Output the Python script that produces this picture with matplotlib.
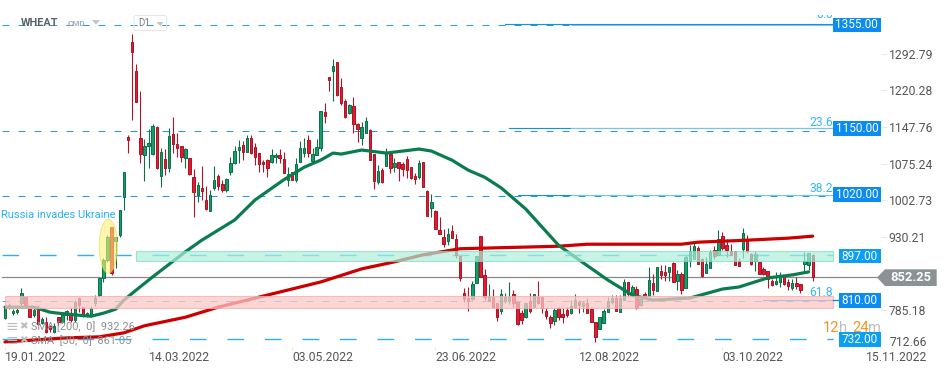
import matplotlib
matplotlib.use("Agg")
import matplotlib.pyplot as plt
from matplotlib.patches import Ellipse, Rectangle, FancyBboxPatch, Polygon
import numpy as np

plt.rcParams['font.family'] = ['Roboto', 'DejaVu Sans']

opens = [768,794,778,780,798,810,786,774,784,759,
         761,753,741,770,761,774,774,764,808,790,
         774,772,798,814,848,884,949,921,933,1009,
         1128,1317,1259,1126,1092,1110,1094,1148,1050,1084,
         1066,1134,1114,1110,1086,1086,1048,1013,1027,1003,
         981,1027,1050,1035,1023,1058,1076,1102,1112,1098,
         1126,1108,1096,1078,1082,1078,1088,1092,1084,1042,
         1058,1043,1078,1096,1122,1080,1092,1106,1178,1247,
         1259,1277,1227,1199,1176,1189,1154,1126,1136,1142,
         1094,1039,1062,1070,1094,1068,1078,1074,1084,1068,
         1050,1048,1078,1021,987,981,943,929,921,941,
         925,892,818,808,806,838,931,854,802,810,
         798,782,802,802,816,800,778,770,802,790,
         810,810,782,770,762,788,776,784,778,790,
         800,792,798,786,761,747,759,780,800,808,
         780,804,840,814,826,794,816,812,838,822,
         862,860,860,878,842,856,828,882,886,907,
         886,858,868,903,894,931,913,902,902,882,
         905,925,896,882,880,866,862,842,836,840,
         852,840,828,838,836,876,874,894]
closes = [790,792,782,784,818,792,770,784,757,766,
          741,747,753,761,774,782,764,800,794,774,
          778,788,808,848,884,929,858,929,983,1058,
          1122,1297,1197,1094,1110,1116,1150,1066,1098,1066,
          1130,1114,1106,1088,1104,1054,1019,1033,1021,985,
          1013,1043,1031,1023,1045,1076,1100,1108,1098,1126,
          1096,1088,1074,1074,1066,1092,1092,1086,1056,1054,
          1043,1074,1106,1106,1096,1094,1108,1180,1170,1241,
          1269,1211,1195,1168,1191,1154,1144,1148,1160,1082,
          1041,1060,1039,1096,1066,1076,1066,1064,1062,1046,
          1045,1076,1029,971,999,945,935,915,935,927,
          894,848,806,802,836,892,850,810,810,790,
          770,816,810,810,798,757,764,798,782,816,
          798,788,772,759,784,770,770,774,792,804,
          794,798,778,761,731,770,782,802,808,782,
          808,840,816,830,788,806,812,844,824,870,
          854,854,870,840,856,824,890,902,911,876,
          852,876,900,892,925,907,903,894,874,872,
          937,902,876,896,856,856,846,834,842,850,
          836,832,838,832,824,882,898,850]
highs = [792,798,786,788,828,810,790,788,794,770,
         770,755,759,770,778,784,790,804,810,790,
         780,792,814,848,888,933,949,929,983,1058,
         1132,1332,1273,1219,1124,1144,1154,1150,1106,1104,
         1146,1168,1136,1110,1106,1086,1064,1039,1070,1031,
         1023,1070,1054,1043,1046,1088,1110,1122,1120,1132,
         1132,1116,1096,1082,1084,1104,1096,1104,1098,1068,
         1058,1086,1120,1126,1132,1106,1124,1180,1195,1247,
         1283,1277,1245,1203,1193,1207,1156,1158,1168,1144,
         1094,1072,1066,1106,1098,1086,1078,1078,1090,1068,
         1056,1082,1078,1023,1015,983,969,945,947,953,
         935,892,828,830,842,892,931,866,836,826,
         798,826,818,840,824,800,784,798,818,816,
         842,810,788,774,788,790,788,790,804,816,
         804,802,808,788,761,770,786,810,814,814,
         814,846,840,834,832,812,820,870,856,870,
         874,874,870,880,864,860,894,914,919,911,
         888,890,903,911,943,939,925,915,902,888,
         947,933,898,902,880,870,862,846,860,860,
         852,846,846,850,836,900,898,896]
lows = [766,786,774,776,794,790,770,770,755,757,
        739,741,739,755,759,764,761,761,780,770,
        770,770,792,810,840,880,854,868,929,983,
        1096,1162,1197,1076,1041,1066,1092,1064,1029,1052,
        1058,1096,1088,1078,1066,1052,969,999,1003,983,
        981,1023,1023,1019,1019,1052,1074,1076,1082,1098,
        1094,1072,1058,1058,1048,1076,1076,1076,1056,1031,
        1043,1039,1078,1088,1088,1080,1092,1100,1156,1219,
        1199,1209,1191,1166,1174,1136,1118,1112,1136,1082,
        1025,1035,1037,1070,1056,1058,1041,1050,1046,1045,
        1035,1045,1029,971,969,945,935,909,913,927,
        888,842,800,782,804,838,850,804,802,790,
        762,776,798,796,790,755,757,768,778,790,
        796,778,766,749,755,764,759,770,776,788,
        778,780,778,761,721,747,759,780,796,782,
        780,804,812,810,786,792,810,812,814,822,
        846,842,842,840,824,816,828,870,886,876,
        850,858,868,886,894,903,890,894,874,872,
        888,898,874,862,856,854,828,832,834,830,
        834,824,824,826,818,860,864,842]

sma30_bar = [0,7,11,13,18,21,24,27,29,32,36,44,48,56,61,68,73,77,80,82,87,93,101,104,
             109,113,117,121,127,135,140,147,153,158,167,175,179,186,192,196]
sma30_val = [790,790,780,778,774,772,778,786,804,824,850,900,923,963,1003,1043,1068,1082,1096,1094,1102,1096,1104,1100,
             1082,1062,1048,1027,985,913,884,844,814,804,808,826,830,848,854,860]
sma200_bar = [0,15,23,29,34,44,52,62,77,87,95,102,111,135,142,160,165,169,181,191,197]
sma200_val = [721,729,731,739,753,770,790,810,840,866,880,894,906,911,915,915,915,919,923,927,931]

date_bars = [0,35,70,105,140,175,210]
date_labels = ['19.01.2022','14.03.2022','03.05.2022','23.06.2022','12.08.2022','03.10.2022','15.11.2022']
price_ticks = [1292.79,1220.28,1147.76,1075.24,1002.73,930.21,785.18]
price_labels = ['1292.79','1220.28','1147.76','1075.24','1002.73','930.21','785.18']

fib_vals = [1352,1146,1013,804]
fib_names = ['0.0','23.6','38.2','61.8']
last_price = 850
level_1355, level_1150, level_1020, level_897, level_810, level_732 = 1350,1140,1010,894,802,727

W, H = 949, 373
BAR_PX = 4.1
fig = plt.figure(figsize=(W/100, H/100), dpi=100)
AX_R, AX_B = 881, 347
ax = fig.add_axes([0, 1-AX_B/H, AX_R/W, AX_B/H])
ax.set_xlim(-5/BAR_PX, (AX_R-5)/BAR_PX)
ax.set_ylim(1400-1.986*AX_B, 1400)
for s in ax.spines.values():
    s.set_visible(False)

# candles
bars = np.arange(len(opens))
o, c, hi, lo = map(np.array, (opens, closes, highs, lows))
up = c >= o
ax.vlines(bars[up], lo[up], hi[up], color='#0b6e48', lw=0.8, zorder=3)
ax.vlines(bars[~up], lo[~up], hi[~up], color='#b01428', lw=0.8, zorder=3)
ax.bar(bars[up], (c-o)[up], bottom=o[up], width=2.4/BAR_PX, color='#12a066', edgecolor='#0b6e48', lw=0.7, zorder=3.1)
ax.bar(bars[~up], (c-o)[~up], bottom=o[~up], width=2.4/BAR_PX, color='#e6192f', edgecolor='#a81426', lw=0.7, zorder=3.1)

# moving averages
ax.plot(sma200_bar, sma200_val, color='#cc0000', lw=2.3, zorder=4, solid_capstyle='round')
ax.plot(sma30_bar, sma30_val, color='#0a7d50', lw=2.3, zorder=4, solid_capstyle='round')

# levels
x0, x1 = -3/BAR_PX, (833-5)/BAR_PX
for lv in (level_1355, level_1150, level_1020):
    ax.plot([x0, x1], [lv, lv], color='#1a9fe6', lw=0.72, ls=(0, (7, 9)), zorder=2)
for lv in (level_897, level_732):
    ax.plot([x0, x1], [lv, lv], color='#2fb0f6', lw=1.0, ls=(0, (12, 15)), zorder=2)
ax.plot([x0, x1], [level_810, level_810], color='#3fa6ee', lw=0.72, ls=(0, (7, 9)), zorder=2)
ax.plot([-3/BAR_PX, (877-5)/BAR_PX], [last_price, last_price], color='#8a8a8a', lw=0.9, zorder=2)

# fib lines
fib_start = [122, 123, 125, 185]
for v, st in zip(fib_vals, fib_start):
    ax.plot([st, x1], [v, v], color='#1590e8', lw=0.8, zorder=2)
    if st < 130:
        ax.plot([138, x1], [v-1.2, v-1.2], color='#7cc4f5', lw=0.7, zorder=2)

# zones
ax.add_patch(Rectangle((31.95, 882.3), x1-31.95, 20.2, facecolor='#aeeeda', alpha=0.7, edgecolor='#7fdcbc', lw=0.8, zorder=5))
ax.add_patch(Rectangle((0, 788.9), x1, 23.3, facecolor='#fcc8c8', alpha=0.75, edgecolor='#f2acac', lw=0.8, zorder=5))
ax.add_patch(Ellipse((25.2, 911), 18/BAR_PX, 107, facecolor='#fff07a', alpha=0.6, edgecolor='#f0dc40', lw=0.8, zorder=6))

# axes
ax.set_xticks(date_bars)
ax.set_xticklabels(date_labels, ha='left', fontsize=8.7, color='#555555')
ax.set_yticks(price_ticks)
ax.set_yticklabels(price_labels)
ax.yaxis.tick_right()
ax.tick_params(axis='y', length=4.3, width=0.7, color='#e6e6e6', pad=1.2, labelsize=8.7, labelcolor='#555555')
ax.tick_params(axis='x', length=2.5, width=0.7, color='#e6e6e6', pad=0.5)
ax.patch.set_alpha(0)

# overlay in pixels for the chrome
ov = fig.add_axes([0, 0, 1, 1], zorder=10)
ov.set_xlim(0, W)
ov.set_ylim(H, 0)
ov.axis('off')

def tag(x0_, x1_, yc, h, txt, col):
    ov.add_patch(Rectangle((x0_, yc-h/2), x1_-x0_, h, facecolor=col, edgecolor='none'))
    ov.text((x0_+x1_)/2, yc, txt, color='white', fontsize=8.5, ha='center', va='center')

tag(833, 880.7, 25, 14, '1355.00', '#0a8cf0')
tag(833, 880.7, 128, 15, '1150.00', '#0a8cf0')
tag(833, 880.7, 194, 15, '1020.00', '#0a8cf0')
tag(839, 880.7, 256, 14.5, '897.00', '#0a9ff2')
tag(839, 880.7, 300.5, 14.5, '810.00', '#0a8cf0')
tag(839, 880.7, 339.5, 14.5, '732.00', '#0a9ff2')
ov.plot([833, 839], [300, 300], color='#0a8cf0', lw=1)

ov.add_patch(Polygon([(877, 277.5), (885, 269.3), (936.7, 269.3), (936.7, 286), (885, 286)], facecolor='#8a9296', edgecolor='none'))
ov.text(911, 277.8, '852.25', color='white', fontsize=9.4, fontweight='bold', ha='center', va='center')
ov.text(889.5, 342.5, '712.66', color='#555555', fontsize=8.7, va='center')

for name, yy in zip(fib_names, (14.5, 122.7, 188, 292.3)):
    ov.text(833, yy, name, color='#3ab4f5', fontsize=8.7, ha='right', va='center')
ov.add_patch(Rectangle((805, 0), 28, 14.5, facecolor='white', edgecolor='none', zorder=5))

ov.text(1, 214.5, 'Russia invades Ukraine', color='#2bb0f5', fontsize=8.0, va='center')

ov.text(20.5, 23, 'WHEAT', color='#5a6268', fontsize=7.8, fontweight='bold', va='center')
ov.text(68, 24, 'CMD', color='#9fb0bc', fontsize=5.8, fontweight='bold', va='center')
ov.add_patch(Polygon([(92, 20), (100, 20), (96, 24.5)], facecolor='#c4c4c4', edgecolor='none'))
ov.add_patch(FancyBboxPatch((134, 15.5), 32.5, 15, boxstyle='round,pad=0,rounding_size=2', facecolor='none', edgecolor='#e6e6e6', lw=0.8))
ov.text(138, 23.5, 'D1', color='#7a7a7a', fontsize=7, va='center')
ov.add_patch(Polygon([(156.5, 22), (163.5, 22), (160, 26)], facecolor='#c4c4c4', edgecolor='none'))

for yy, label in ((326.7, 'SMA [200,  0]  932.26'), (340.7, 'SMA  [30,  0]  861.05')):
    ov.text(31.5, yy, label, color='#8f8f8f', fontsize=7.9, va='center')
    ov.text(11.5, yy-0.5, '\u2261', color='#bdbdbd', fontsize=11, ha='center', va='center', family=['DejaVu Sans'])
    ov.text(23.5, yy-0.5, '\u2716', color='#bdbdbd', fontsize=7.5, ha='center', va='center', family=['DejaVu Sans'])

for xx, s, col in ((823.3, '12', '#f7931e'), (839, 'h', '#bdbdbd'), (852.3, '24', '#f7931e'), (867.7, 'm', '#bdbdbd')):
    ov.text(xx, 327.7, s, color=col, fontsize=10.6, va='center')

fig.savefig('out.png', dpi=100)
